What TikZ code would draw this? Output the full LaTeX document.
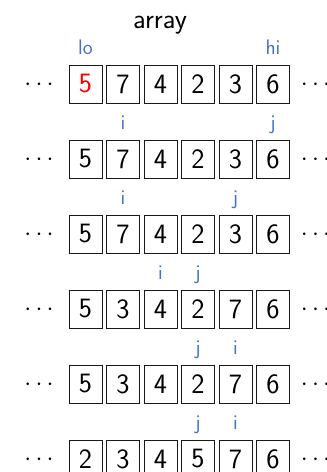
\documentclass[tikz,border=0pt]{standalone}
\usepackage{fontspec}
\definecolor{ptrblue}{RGB}{68,114,196}
\tikzset{
  cell/.style={draw=black!90, line width=0.9pt, minimum width=33pt, minimum height=38pt,
    inner sep=0pt, font=\fontsize{28}{30}\selectfont\sffamily},
  ptr/.style={anchor=base, text=ptrblue, inner sep=0pt, font=\fontsize{21}{23}\selectfont\sffamily},
  dotsn/.style={anchor=base, inner sep=0pt, font=\fontsize{27}{29}\selectfont},
  ttl/.style={anchor=base, inner sep=0pt, font=\fontsize{28}{30}\selectfont\sffamily},
}
\begin{document}
\begin{tikzpicture}[x=1pt,y=-1pt]
\useasboundingbox (0,0) rectangle (327,472);
\node[ttl] (title) at (160,28) {array};
\foreach \r/\vals in {1/{{\textcolor{red}{5}},7,4,2,3,6},2/{5,7,4,2,3,6},3/{5,7,4,2,3,6},4/{5,3,4,2,7,6},5/{5,3,4,2,7,6},6/{2,3,4,5,7,6}}{
  \pgfmathsetmacro{\yc}{84+(\r-1)*75}
  \foreach \v [count=\c] in \vals {
    \pgfmathsetmacro{\xc}{85.5+(\c-1)*37.5}
    \node[cell] (c\r-\c) at (\xc,\yc) {\v};
  }
  \node[dotsn] (dl\r) at (39,\yc+6.75) {$\cdots$};
  \node[dotsn] (dr\r) at (315.5,\yc+6.75) {$\cdots$};
}
% pointer labels (baseline = row top - 11)
\node[ptr] (lo) at (85.5,54) {lo};
\node[ptr] (hi) at (273,54) {hi};
\node[ptr] (i2) at (123,129) {i};
\node[ptr] (j2) at (273,129) {j};
\node[ptr] (i3) at (123,204) {i};
\node[ptr] (j3) at (235.5,204) {j};
\node[ptr] (i4) at (160.5,279) {i};
\node[ptr] (j4) at (198,279) {j};
\node[ptr] (j5) at (198,354) {j};
\node[ptr] (i5) at (235.5,354) {i};
\node[ptr] (j6) at (198,429) {j};
\node[ptr] (i6) at (235.5,429) {i};
\end{tikzpicture}
\end{document}
